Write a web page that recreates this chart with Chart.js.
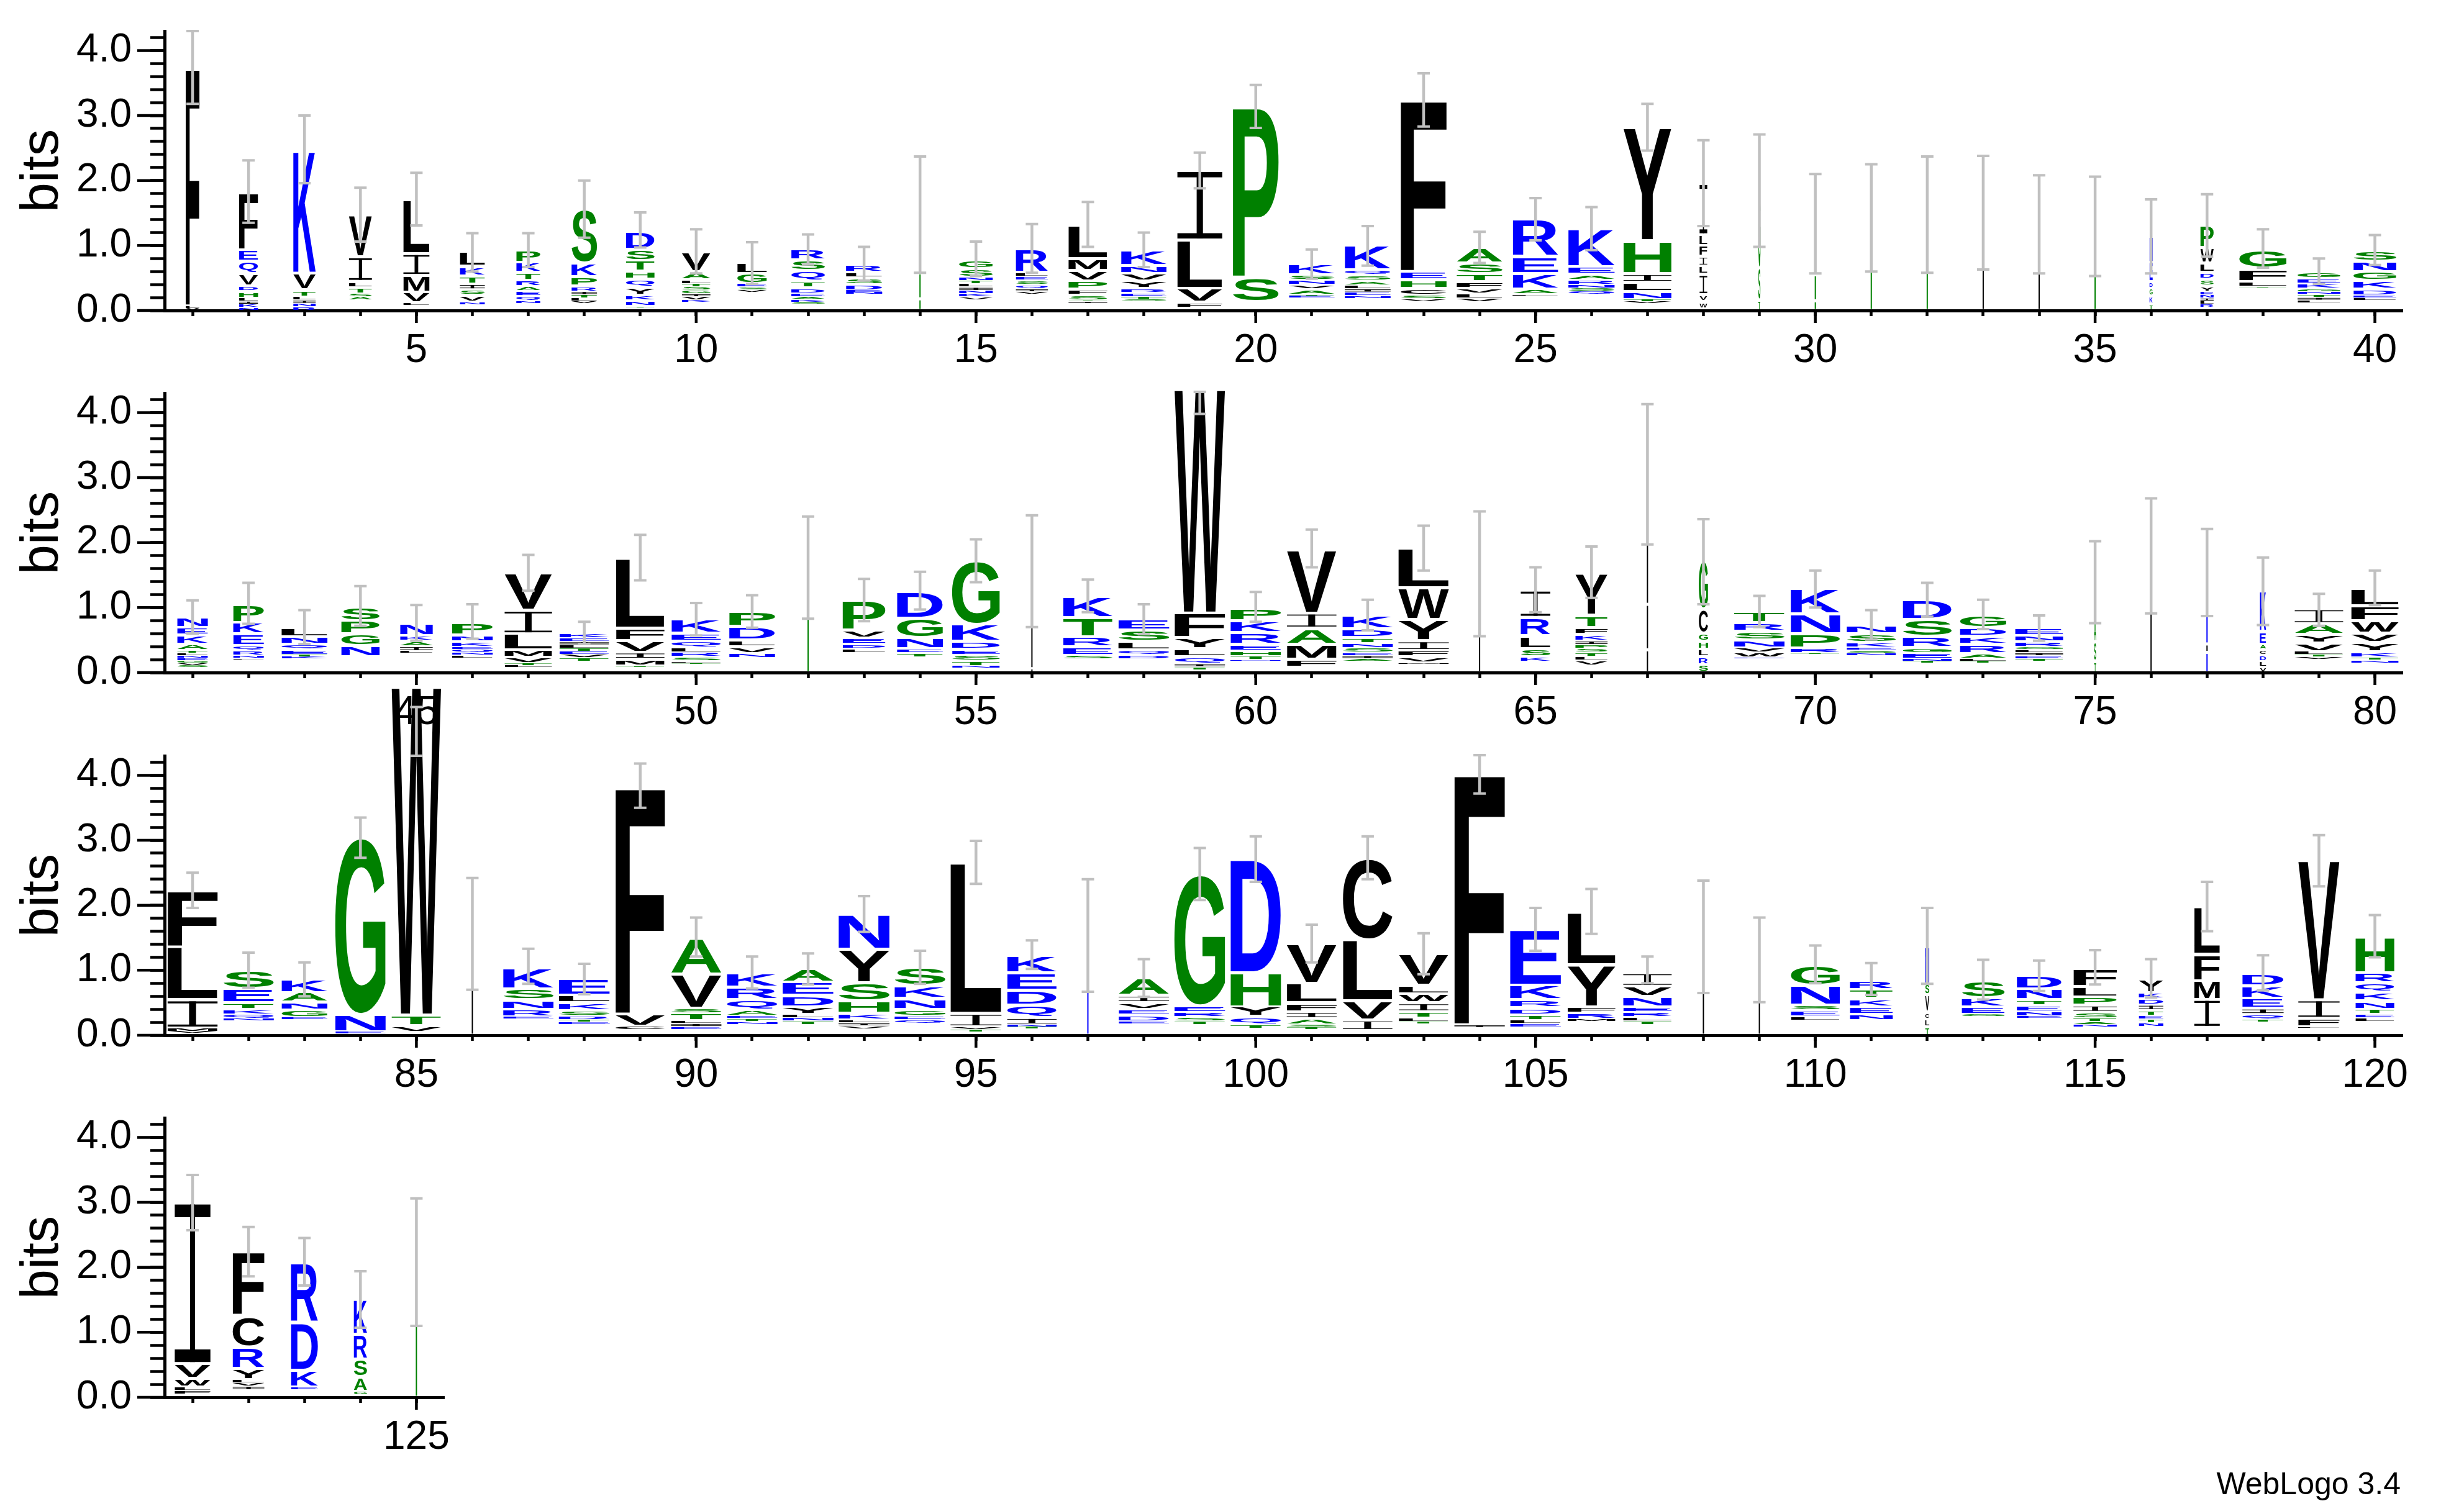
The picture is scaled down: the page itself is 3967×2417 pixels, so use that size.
<!DOCTYPE html>
<html>
<head>
<meta charset="utf-8">
<title>WebLogo 3.4</title>
<script src="https://cdn.jsdelivr.net/npm/chart.js@4.4.1/dist/chart.umd.min.js"></script>
<style>
  html, body { margin: 0; padding: 0; background: #fff; }
  #page { position: relative; width: 3967px; height: 2417px; overflow: hidden; background: #fff; }
  #page canvas { position: absolute; left: 0; }
  .credit { position: absolute; right: 102px; top: 2364px; font: 50px/50px "Liberation Sans", Arial, sans-serif; color: #000; }
</style>
</head>
<body>
<div id="page">
  <canvas id="row0"></canvas>
  <canvas id="row1"></canvas>
  <canvas id="row2"></canvas>
  <canvas id="row3"></canvas>
  <div class="credit">WebLogo 3.4</div>
</div>
<script>
// ---- data ----
const rowFirst = [1, 41, 81, 121];
const rowLast = [40, 80, 120, 125];
const yLabelTicks = [0, 1, 2, 3, 4];
const xLabelStep = 5;

// letters of each stack, top to bottom ('.' = residue too small to draw)
const stackLetters = [
  // 1-40
  'FLV', 'FEQVDHLIKN', 'KVTLINR', 'VILTSA.', 'LIMVL.', 'LKTISVN.', 'PKTRAEQN.', 'SKPRITLV.', 'DSTHQYKNT.', 'VALTSGIVK.',
  'LGESV.', 'RSQTDEAKS.', 'RLSDEN.', 'GST', 'GSNTLINKV.', 'RLESQIV.', 'LMVPFSTI.', 'KNVYRETS.', 'ILVF.', 'PS.',
  'KSNVATE.', 'KQSALIEN.', 'FEHCSV.', 'ASTFVLV.', 'REKAL.', 'KEARNSQ.', 'YHILNTV.', 'ILFILIVW.', 'GST', 'GSA',
  'IG', 'G', 'L', 'L', 'S', 'NEDGKT', 'PWLDSYENILR.', 'GFLT.', 'GEKGNTIL.', 'SNGKDEL.',
  // 41-80
  'NEKATLNEGVS.', 'PKEQRNL.', 'LNQETK.', 'SPGN.', 'NKAIL.', 'PNKEQNL.', 'VILMVTL.', 'KEILTEVT.', 'LFVIMT.', 'KEQLRSLT.',
  'PDLVN.', 'IS', 'PVEDL.', 'DGNET.', 'GKDESTN.', 'LV', 'KTRES.', 'ESLQD.', 'WFYLQIT.', 'PKREHTN.',
  'VIAMF.', 'KDTNSEIA.', 'LWYIFVM.', 'L', 'IRLSK.', 'YTFKIPSTLV.', 'LIV', 'GCGHLRS', 'TRSNVWE.', 'KNPRT.',
  'NSKESN.', 'DSRGENT.', 'GDKRALT.', 'ENRGLIET.', 'GAST', 'L', 'NFK', 'KEACDLV', 'IAYVLTV.', 'LFWVYKTN.',
  // 81-120
  'FLIMV.', 'SETKQN.', 'KANGE.', 'GNE.', 'WTV.', 'L', 'KSNRE.', 'ELKSRTE.', 'FVC.', 'AVSTLIE.',
  'KRQAETN.', 'AEDYLNT.', 'NYSHKLIV.', 'SKNGEQ.', 'LIVT.', 'KEDQINT.', 'N', 'AIVEDE.', 'GERST.', 'DHYQT.',
  'VLFIAST.', 'CLVI.', 'VLWITLT.', 'FI.', 'EKRDTLE.', 'LYFRM.', 'IVNERLT.', 'L', 'GL', 'GNSEL.',
  'RTKEN.', 'NSVCLT', 'SKEG.', 'DNTENE.', 'FLPISTAN.', 'YKDITETN.', 'LFMI.', 'DKEIQT.', 'VIFL.', 'HRQKNTEL.',
  // 121-125
  'IVWLF.', 'FCRYLVI.', 'RDKE.', 'KRSAG.', 'G'
];

// bits of each letter, same order
const stackBits = [
  [3.68,0.04,0.03], [0.89,0.18,0.19,0.19,0.08,0.10,0.05,0.05,0.05,0.045], [1.895,0.257,0.106,0.05,0.05,0.05,0.06],
  [0.652,0.379,0.089,0.099,0.05,0.05,0.16], [0.834,0.336,0.257,0.164,0.04,0.079], [0.224,0.145,0.125,0.083,0.089,0.109,0.04,0.088],
  [0.191,0.155,0.122,0.092,0.073,0.076,0.082,0.035,0.11], [0.831,0.207,0.148,0.083,0.049,0.05,0.05,0.04,0.104],
  [0.284,0.171,0.165,0.125,0.122,0.122,0.085,0.08,0.026,0.046], [0.309,0.126,0.064,0.05,0.05,0.05,0.05,0.05,0.03,0.13],
  [0.171,0.158,0.05,0.04,0.04,0.28], [0.164,0.165,0.155,0.109,0.089,0.05,0.04,0.04,0.035,0.095], [0.122,0.083,0.105,0.092,0.03,0.03,0.25],
  [0.9,0.4,0.18], [0.139,0.132,0.049,0.05,0.05,0.05,0.05,0.05,0.047,0.161], [0.362,0.066,0.06,0.07,0.06,0.044,0.04,0.25],
  [0.518,0.184,0.155,0.132,0.089,0.077,0.025,0.025,0.11], [0.24,0.116,0.115,0.115,0.066,0.067,0.03,0.032,0.148],
  [1.071,0.741,0.215,0.088,0.04], [2.629,0.376,0.138],
  [0.175,0.073,0.082,0.066,0.082,0.025,0.03,0.19], [0.379,0.076,0.089,0.066,0.055,0.055,0.055,0.047,0.18],
  [2.649,0.126,0.138,0.099,0.059,0.04,0.138], [0.238,0.164,0.119,0.105,0.083,0.075,0.057,0.128], [0.574,0.257,0.247,0.076,0.02,0.23],
  [0.587,0.115,0.083,0.082,0.05,0.05,0.042,0.25], [1.746,0.507,0.132,0.142,0.123,0.03,0.035,0.105],
  [0.79,0.165,0.165,0.15,0.13,0.31,0.105,0.11,0.03], [1.2,0.5,0.16], [0.8,0.4,0.15],
  [0.08,1.34], [1.47], [1.5], [1.33], [1.3], [0.4,0.3,0.1,0.12,0.12,0.1],
  [0.346,0.238,0.141,0.099,0.109,0.089,0.049,0.049,0.049,0.049,0.049,0.046], [0.29,0.198,0.089,0.02,0.34],
  [0.099,0.076,0.079,0.045,0.045,0.045,0.04,0.042,0.119], [0.164,0.155,0.142,0.132,0.099,0.035,0.032,0.16],

  [0.155,0.118,0.145,0.093,0.04,0.04,0.04,0.04,0.04,0.035,0.03,0.076], [0.284,0.178,0.184,0.073,0.082,0.03,0.027,0.2],
  [0.141,0.116,0.082,0.083,0.03,0.033,0.21], [0.215,0.204,0.184,0.172,0.24], [0.191,0.082,0.082,0.072,0.033,0.30],
  [0.197,0.106,0.072,0.045,0.045,0.045,0.04,0.224], [0.573,0.363,0.25,0.112,0.092,0.035,0.031,0.076],
  [0.073,0.059,0.05,0.05,0.05,0.05,0.05,0.05,0.175], [1.071,0.197,0.175,0.105,0.106,0.022,0.08],
  [0.214,0.115,0.099,0.076,0.072,0.066,0.025,0.025,0.125], [0.231,0.204,0.105,0.099,0.076,0.224], [0.06,1.55],
  [0.472,0.122,0.092,0.066,0.066,0.306], [0.411,0.297,0.171,0.06,0.066,0.24], [0.976,0.263,0.122,0.083,0.092,0.079,0.032,0.07],
  [1.5,0.06], [0.33,0.296,0.155,0.132,0.059,0.208], [0.165,0.174,0.132,0.079,0.059,0.208],
  [3.45,0.379,0.165,0.125,0.112,0.045,0.047,0.043], [0.192,0.181,0.181,0.105,0.076,0.057,0.02,0.18],
  [0.979,0.231,0.247,0.23,0.126,0.082], [0.208,0.131,0.089,0.076,0.073,0.045,0.045,0.041,0.175],
  [0.613,0.484,0.329,0.149,0.092,0.089,0.027,0.131], [1.52], [0.419,0.287,0.191,0.125,0.079,0.168],
  [0.649,0.188,0.108,0.099,0.06,0.06,0.06,0.06,0.06,0.079,0.109], [2.0,0.7,0.35], [0.741,0.379,0.125,0.122,0.115,0.126,0.115],
  [0.165,0.138,0.132,0.125,0.073,0.07,0.026,0.21], [0.388,0.304,0.217,0.079,0.02,0.28],
  [0.139,0.131,0.076,0.045,0.045,0.042,0.257], [0.297,0.263,0.165,0.089,0.092,0.035,0.031,0.142],
  [0.198,0.132,0.125,0.148,0.076,0.035,0.037,0.142], [0.115,0.092,0.079,0.046,0.046,0.046,0.046,0.047,0.168],
  [0.6,0.35,0.3,0.17], [1.8], [1.1,0.13,0.31], [0.626,0.198,0.082,0.089,0.092,0.092,0.082],
  [0.231,0.165,0.131,0.132,0.05,0.035,0.03,0.208], [0.27,0.231,0.19,0.145,0.142,0.089,0.045,0.041,0.148],

  [0.871,0.813,0.435,0.05,0.03,0.03], [0.284,0.216,0.098,0.083,0.068,0.03,0.22], [0.208,0.151,0.121,0.114,0.03,0.242],
  [2.724,0.265,0.03,0.023], [5.059,0.162,0.10,0.048], [1.56], [0.329,0.17,0.144,0.121,0.03,0.25],
  [0.253,0.114,0.124,0.076,0.064,0.035,0.034,0.166], [3.504,0.189,0.053,0.083], [0.556,0.53,0.075,0.114,0.045,0.045,0.043,0.09],
  [0.219,0.197,0.152,0.094,0.045,0.045,0.043,0.166], [0.201,0.204,0.174,0.121,0.05,0.05,0.052,0.166],
  [0.542,0.51,0.284,0.189,0.102,0.045,0.045,0.047,0.098], [0.28,0.2,0.163,0.113,0.05,0.053,0.185],
  [2.319,0.208,0.04,0.036,0.053], [0.272,0.265,0.234,0.19,0.113,0.03,0.031,0.098], [1.53],
  [0.272,0.106,0.106,0.083,0.106,0.04,0.172], [2.024,0.094,0.076,0.068,0.053,0.159], [1.748,0.522,0.151,0.129,0.061,0.098],
  [0.606,0.303,0.136,0.102,0.095,0.04,0.043,0.083], [1.26,0.946,0.291,0.163,0.072], [0.484,0.133,0.14,0.136,0.091,0.06,0.04,0.172],
  [3.874,0.038,0.121], [0.851,0.227,0.121,0.106,0.083,0.057,0.057,0.121], [0.806,0.643,0.091,0.098,0.038,0.212],
  [0.208,0.151,0.163,0.083,0.076,0.06,0.061,0.159], [1.51], [0.6,0.57], [0.311,0.302,0.076,0.106,0.057,0.223],
  [0.144,0.14,0.125,0.114,0.09,0.235], [0.58,0.17,0.264,0.106,0.121,0.129], [0.265,0.144,0.113,0.03,0.288],
  [0.201,0.17,0.083,0.099,0.075,0.03,0.258], [0.276,0.163,0.128,0.106,0.095,0.05,0.045,0.045,0.121],
  [0.208,0.094,0.095,0.083,0.087,0.056,0.057,0.057,0.129], [0.73,0.405,0.288,0.431,0.121],
  [0.197,0.2,0.152,0.087,0.09,0.03,0.205], [2.149,0.284,0.132,0.02,0.109], [0.549,0.159,0.144,0.132,0.125,0.076,0.057,0.056,0.212],

  [2.471,0.232,0.126,0.06,0.06,0.041], [0.981,0.478,0.332,0.171,0.052,0.052,0.053,0.116], [0.922,0.735,0.256,0.045,0.116],
  [0.54,0.383,0.274,0.222,0.051,0.041], [2.08]
];

// stack width as fraction of a full column (non-gap occupancy)
const stackWidth = [
  .27,.37,.44,.45,.51,.49,.47,.50,.56,.56, .58,.66,.71,.02,.66,.63,.76,.89,.88,.90,
  .90,.90,.90,.90,.89,.91,.94,.15,.04,.02, .015,.015,.012,.012,.015,.06,.26,.93,.84,.84,
  .60,.60,.90,.75,.64,.80,.93,.97,.95,.97, .90,.015,.84,.90,.94,.012,.97,1.0,.99,.99,
  .97,.99,.99,.012,.58,.63,.015,.18,.99,.97, .97,.96,.91,.94,.04,.012,.02,.12,.95,.93,
  .98,.99,.90,.99,.97,.012,.99,1.0,.97,.99, .99,1.0,1.0,1.0,1.0,.97,.012,.99,1.0,.99,
  .98,.97,.97,.99,1.0,.94,.95,.012,.012,.96, .84,.08,.84,.88,.85,.48,.50,.81,.81,.76,
  .70,.62,.53,.26,.012
];

// error bar ends, bits
const errLow = [
  3.18,1.35,1.96,1.06,1.31,0.60,0.67,1.12,0.97,0.57, 0.41,0.71,0.46,0.58,0.53,0.58,0.98,0.67,1.88,2.81,
  0.49,0.69,2.83,0.73,1.08,0.93,2.46,1.30,0.98,0.57, 0.60,0.58,0.63,0.57,0.53,0.57,0.83,0.66,0.41,0.70,
  0.60,0.75,0.44,0.72,0.49,0.52,1.26,0.44,1.42,0.57, 0.69,0.83,0.79,0.97,1.39,0.70,0.93,0.59,3.98,0.78,
  1.62,0.65,1.57,0.56,0.93,1.15,1.97,1.05,0.70,1.00, 0.51,0.86,0.67,0.49,0.76,0.91,0.87,0.73,0.72,1.04,
  1.96,0.73,0.60,2.73,4.30,0.70,0.79,0.63,3.50,1.21, 0.72,0.78,1.59,0.79,2.33,1.02,0.67,0.59,2.08,2.36,
  1.12,2.40,0.94,3.72,1.30,1.56,0.80,0.65,0.51,0.80, 0.62,0.79,0.55,0.68,0.78,0.58,1.60,0.69,2.29,1.20,
  2.57,1.86,1.72,1.07,1.10
];
const errHigh = [
  4.30,2.31,3.00,1.89,2.12,1.19,1.19,2.00,1.51,1.25, 1.05,1.17,0.98,2.37,1.06,1.33,1.67,1.20,2.43,3.47,
  0.94,1.30,3.65,1.21,1.73,1.59,3.18,2.62,2.71,2.10, 2.25,2.37,2.38,2.08,2.06,1.71,1.79,1.25,0.80,1.16,
  1.11,1.38,0.96,1.33,1.04,1.05,1.81,0.78,2.12,1.07, 1.19,2.40,1.44,1.55,2.05,2.42,1.43,1.05,4.32,1.24,
  2.20,1.12,2.26,2.48,1.62,1.94,4.13,2.36,1.18,1.57, 0.96,1.38,1.12,0.88,2.02,2.68,2.21,1.77,1.21,1.57,
  2.50,1.27,1.12,3.35,5.05,2.42,1.33,1.10,4.18,1.81, 1.21,1.26,2.14,1.30,2.99,1.46,2.40,1.17,2.88,3.06,
  1.70,3.06,1.57,4.31,1.96,2.25,1.21,2.38,1.81,1.38, 1.11,1.96,1.16,1.15,1.31,1.17,2.36,1.23,3.08,1.85,
  3.42,2.62,2.45,1.94,3.06
];

// ---- style / layout ----
const BLUE = '#0000ff', GREEN = '#008000', BLACK = '#000000', ERR_GREY = '#c0c0c0';
const GLYPH_FONT = 'bold 200px "Liberation Sans"';
const FULL_W = 0.91;        // full-occupancy stack width, in position units
const MIN_GLYPH_PX = 2;     // keep hairline stacks visible
const Y_MAX = 4.3;
const ROW_ZERO = [500, 1083.3, 1666.7, 2250];
const ABOVE = 620, BELOW = 140;
const AXIS_LEFT = 265, POS_PX = 90.09;

function colorOf(ch) {
  if ('RKDENQ'.includes(ch)) return BLUE;
  if ('SGHTAP'.includes(ch)) return GREEN;
  return BLACK;
}

const metricCache = {};
function glyphMetrics(ctx, ch) {
  if (!metricCache[ch]) {
    ctx.save();
    ctx.font = GLYPH_FONT;
    const t = ctx.measureText(ch);
    ctx.restore();
    metricCache[ch] = {
      left: t.actualBoundingBoxLeft,
      w: t.actualBoundingBoxLeft + t.actualBoundingBoxRight,
      asc: t.actualBoundingBoxAscent,
      h: t.actualBoundingBoxAscent + t.actualBoundingBoxDescent
    };
  }
  return metricCache[ch];
}

function drawGlyph(ctx, ch, x, top, w, h) {
  const inset = Math.min(2.5, h * 0.2);
  top += inset; h -= 2 * inset;
  if (h < 0.6) return;
  ctx.fillStyle = colorOf(ch);
  if (w < MIN_GLYPH_PX) {
    // hairline stack: glyph detail is lost, draw it as a thin bar
    const cx = x + w / 2;
    ctx.fillRect(cx - MIN_GLYPH_PX / 2, top, MIN_GLYPH_PX, h);
    return;
  }
  if (ch === 'I') {
    // I-beam shaped I, like the logo font
    const bar = Math.max(h * 0.08, Math.min(h / 3, 1));
    const stem = Math.min(w, Math.max(w * 0.14, 1));
    ctx.fillRect(x, top, w, bar);
    ctx.fillRect(x, top + h - bar, w, bar);
    ctx.fillRect(x + (w - stem) / 2, top, stem, h);
    return;
  }
  const m = glyphMetrics(ctx, ch);
  ctx.save();
  ctx.font = GLYPH_FONT;
  ctx.textAlign = 'left';
  ctx.textBaseline = 'alphabetic';
  ctx.translate(x, top);
  ctx.scale(w / m.w, h / m.h);
  ctx.fillText(ch, m.left, m.asc);
  ctx.restore();
}

const logoPlugin = {
  id: 'logo',
  afterDatasetsDraw(chart, args, opts) {
    const { ctx, scales: { x, y } } = chart;
    for (let p = opts.first; p <= opts.last; p++) {
      const i = p - 1;
      const half = stackWidth[i] * FULL_W / 2;
      const left = x.getPixelForValue(p - half);
      const width = x.getPixelForValue(p + half) - left;
      const letters = stackLetters[i], bits = stackBits[i];
      let cum = 0;
      for (let k = letters.length - 1; k >= 0; k--) {
        const y0 = y.getPixelForValue(cum);
        const y1 = y.getPixelForValue(cum + bits[k]);
        cum += bits[k];
        if (letters[k] === '.') continue;
        drawGlyph(ctx, letters[k], left, y1, width, y0 - y1);
      }
    }
    // error bars
    ctx.save();
    ctx.strokeStyle = ERR_GREY;
    ctx.lineCap = 'butt';
    for (let p = opts.first; p <= opts.last; p++) {
      const i = p - 1;
      const cx = x.getPixelForValue(p);
      const lo = y.getPixelForValue(errLow[i]), hi = y.getPixelForValue(errHigh[i]);
      ctx.lineWidth = 4.5;
      ctx.beginPath(); ctx.moveTo(cx, lo); ctx.lineTo(cx, hi); ctx.stroke();
      ctx.lineWidth = 4;
      ctx.beginPath();
      ctx.moveTo(cx - 10, lo); ctx.lineTo(cx + 10, lo);
      ctx.moveTo(cx - 10, hi); ctx.lineTo(cx + 10, hi);
      ctx.stroke();
    }
    ctx.restore();
  },
  afterDraw(chart, args, opts) {
    // longer marks on the labelled ticks
    const { ctx, chartArea, scales: { x, y } } = chart;
    ctx.save();
    ctx.strokeStyle = BLACK;
    ctx.lineWidth = 4.5;
    ctx.beginPath();
    yLabelTicks.forEach((v) => {
      const py = y.getPixelForValue(v);
      ctx.moveTo(chartArea.left - 44, py); ctx.lineTo(chartArea.left, py);
    });
    for (let p = opts.first; p <= opts.last; p++) {
      if (p % xLabelStep !== 0) continue;
      const px = x.getPixelForValue(p);
      ctx.moveTo(px, chartArea.bottom); ctx.lineTo(px, chartArea.bottom + 20);
    }
    ctx.stroke();
    ctx.restore();
  }
};

Chart.defaults.font.family = '"Liberation Sans", Arial, sans-serif';
Chart.defaults.color = '#000';

const yMinorTicks = [];
for (let k = 0; k <= 21; k++) yMinorTicks.push(Math.round(k * 2) / 10);

function makeRow(r) {
  const first = rowFirst[r], last = rowLast[r];
  const canvas = document.getElementById('row' + r);
  canvas.width = 3967;
  canvas.height = ABOVE + BELOW;
  canvas.style.top = (ROW_ZERO[r] - ABOVE) + 'px';
  const rightEdge = AXIS_LEFT + (last - first + 1) * POS_PX;
  const pts = [];
  for (let p = first; p <= last; p++) {
    pts.push({ x: p, y: stackBits[p - 1].reduce((a, b) => a + b, 0) });
  }
  const xTicks = [];
  for (let p = first; p <= last; p++) xTicks.push({ value: p });

  return new Chart(canvas.getContext('2d'), {
    type: 'scatter',
    data: { datasets: [{ data: pts, pointRadius: 0, pointHoverRadius: 0, showLine: false }] },
    options: {
      responsive: false,
      animation: false,
      devicePixelRatio: 1,
      events: [],
      layout: { padding: { left: 0, right: 3967 - rightEdge, top: ABOVE - 450, bottom: 0 } },
      plugins: {
        legend: { display: false },
        tooltip: { enabled: false },
        logo: { first, last }
      },
      scales: {
        x: {
          type: 'linear',
          min: first - 0.5,
          max: last + 0.5,
          afterBuildTicks: (s) => { s.ticks = xTicks.map((t) => ({ value: t.value })); },
          afterFit: (s) => { s.height = BELOW; },
          ticks: {
            autoSkip: false, maxRotation: 0, minRotation: 0, padding: 18,
            font: { size: 64 }, color: '#000',
            callback: (v) => (v % xLabelStep === 0 ? String(v) : '')
          },
          grid: { drawOnChartArea: false, tickLength: 9, tickWidth: 4.5, tickColor: '#000' },
          border: { display: true, width: 5, color: '#000' }
        },
        y: {
          type: 'linear',
          min: 0,
          max: Y_MAX,
          afterBuildTicks: (s) => { s.ticks = yMinorTicks.map((v) => ({ value: v })); },
          afterFit: (s) => { s.width = AXIS_LEFT; },
          ticks: {
            autoSkip: false, padding: 30, font: { size: 64 }, color: '#000',
            callback: (v) => (Math.abs(v - Math.round(v)) < 1e-6 ? v.toFixed(1) : '')
          },
          grid: { drawOnChartArea: false, tickLength: 23, tickWidth: 4.5, tickColor: '#000' },
          border: { display: true, width: 5, color: '#000' },
          title: { display: true, text: 'bits', color: '#000', font: { size: 86 }, padding: { top: 18, bottom: 0 } }
        }
      }
    },
    plugins: [logoPlugin]
  });
}

[0, 1, 2, 3].forEach(makeRow);
</script>
</body>
</html>
